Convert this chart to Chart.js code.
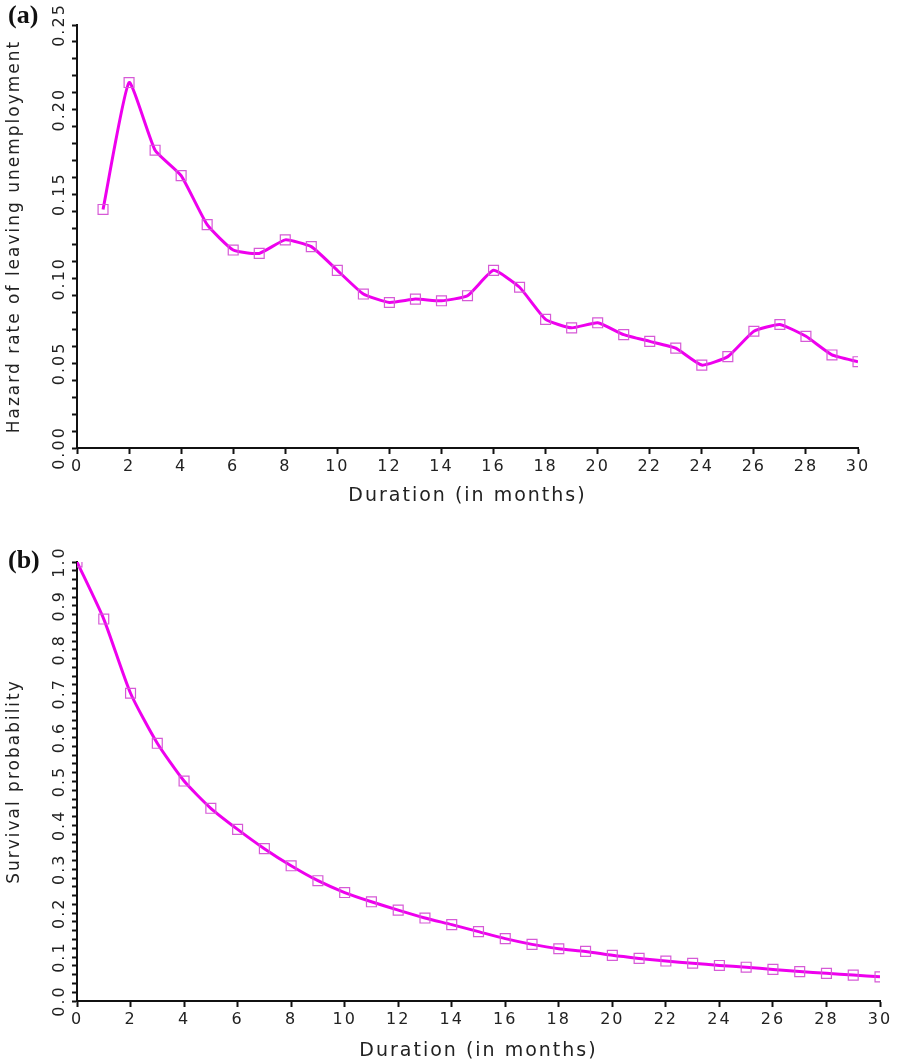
<!DOCTYPE html>
<html>
<head>
<meta charset="utf-8">
<script src="https://cdn.jsdelivr.net/npm/chart.js@4/dist/chart.umd.min.js"></script>
<style>
  body { margin: 0; background: #fff; }
  #wrap { position: relative; width: 897px; height: 1061px; }
  canvas { position: absolute; left: 0; }
  .tag { position: absolute; left: 8px; font: bold 26px "Liberation Serif", serif; color: #111; }
</style>
</head>
<body>
<div id="wrap">
  <canvas id="hazard" width="897" height="520" style="top:0"></canvas>
  <canvas id="survival" width="897" height="531" style="top:530px"></canvas>
  <div class="tag" style="top:0">(a)</div>
  <div class="tag" style="top:545px">(b)</div>
</div>
<script>
// panel (a): hazard rate by month of unemployment
var hazardMonths = [1, 2, 3, 4, 5, 6, 7, 8, 9, 10, 11, 12, 13, 14, 15,
    16, 17, 18, 19, 20, 21, 22, 23, 24, 25, 26, 27, 28, 29, 30];
var hazardRate = [0.141, 0.216, 0.176, 0.161, 0.132, 0.117, 0.115, 0.123, 0.119, 0.105,
    0.091, 0.086, 0.088, 0.087, 0.090, 0.105, 0.095, 0.076, 0.071, 0.074,
    0.067, 0.063, 0.059, 0.049, 0.054, 0.069, 0.073, 0.066, 0.055, 0.051];

// panel (b): survival probability
var survivalMonths = [0, 1, 2, 3, 4, 5, 6, 7, 8, 9, 10, 11, 12, 13, 14, 15,
    16, 17, 18, 19, 20, 21, 22, 23, 24, 25, 26, 27, 28, 29, 30];
var survivalProb = [1.0, 0.870, 0.701, 0.587, 0.501, 0.439, 0.391, 0.347, 0.308, 0.274, 0.247,
    0.226, 0.207, 0.189, 0.174, 0.158, 0.142, 0.129, 0.119, 0.113, 0.104,
    0.097, 0.091, 0.086, 0.081, 0.077, 0.072, 0.067, 0.063, 0.059, 0.055];

var xTitle = 'Duration (in months)';
var axisFont = { family: 'DejaVu Sans', size: 16 };
var xTitleFont = { family: 'DejaVu Sans', size: 19 };
var yTitleFont = { family: 'DejaVu Sans', size: 17 };
var magenta = '#ee00ee';

// the original plot font is wide, so space the letters out a bit
var spacing = {
    id: 'spacing',
    beforeUpdate: function (chart) { chart.ctx.letterSpacing = '2px'; },
    beforeDraw: function (chart) { chart.ctx.letterSpacing = '2px'; }
};

function toPoints(xs, ys) {
    return xs.map(function (x, i) { return { x: x, y: ys[i] }; });
}

function isMajor(v, step) {
    return Math.abs(v / step - Math.round(v / step)) < 1e-6;
}

function makeChart(id, pts, opts) {
    return new Chart(document.getElementById(id).getContext('2d'), {
        type: 'line',
        plugins: [spacing],
        data: {
            datasets: [{
                data: pts,
                borderColor: magenta,
                borderWidth: 3,
                tension: opts.tension,
                pointStyle: 'rect',
                pointRadius: 7,
                pointBorderWidth: 1.2,
                pointBorderColor: '#d65ad6',
                pointBackgroundColor: 'rgba(0,0,0,0)'
            }]
        },
        options: {
            responsive: false,
            animation: false,
            layout: { padding: opts.padding },
            plugins: { legend: { display: false }, tooltip: { enabled: false } },
            scales: {
                x: {
                    type: 'linear',
                    min: 0, max: 30,
                    afterFit: function (s) { s.height = opts.xHeight; },
                    border: { color: '#111', width: 2 },
                    grid: { drawOnChartArea: false, tickLength: 6, tickWidth: 2, tickColor: '#111' },
                    ticks: { stepSize: 2, autoSkip: false, maxRotation: 0, padding: 3,
                        color: '#222', font: axisFont },
                    title: { display: true, text: xTitle, color: '#222', font: xTitleFont,
                        padding: { top: 0, bottom: opts.xTitlePad } }
                },
                y: {
                    min: opts.yMin, max: opts.yMax,
                    afterFit: function (s) { s.width = 77; },
                    border: { color: '#111', width: 2 },
                    grid: { drawOnChartArea: false, tickLength: 5, tickWidth: 2, tickColor: '#111' },
                    ticks: {
                        stepSize: opts.minorStep, autoSkip: false,
                        minRotation: 90, maxRotation: 90,
                        crossAlign: 'center', padding: opts.tickPad,
                        color: '#222', font: axisFont,
                        callback: function (v) {
                            return isMajor(v, opts.majorStep) ? v.toFixed(opts.digits) : '';
                        }
                    },
                    title: { display: true, text: opts.yTitle, color: '#222', font: yTitleFont,
                        padding: { top: 4, bottom: 0 } }
                }
            }
        }
    });
}

makeChart('hazard', toPoints(hazardMonths, hazardRate), {
    tension: 0.15,
    padding: { top: 25, right: 39, left: 0, bottom: 0 },
    xHeight: 72,
    xTitlePad: 13,
    yMin: 0, yMax: 0.25, minorStep: 0.01, majorStep: 0.05, digits: 2,
    tickPad: -10,
    yTitle: 'Hazard rate of leaving unemployment'
});

makeChart('survival', toPoints(survivalMonths, survivalProb), {
    tension: 0.2,
    padding: { top: 32, right: 17, left: 0, bottom: 0 },
    xHeight: 60,
    xTitlePad: -1,
    yMin: 0, yMax: 1, minorStep: 0.02, majorStep: 0.1, digits: 1,
    tickPad: -4,
    yTitle: 'Survival probability'
});
</script>
</body>
</html>
